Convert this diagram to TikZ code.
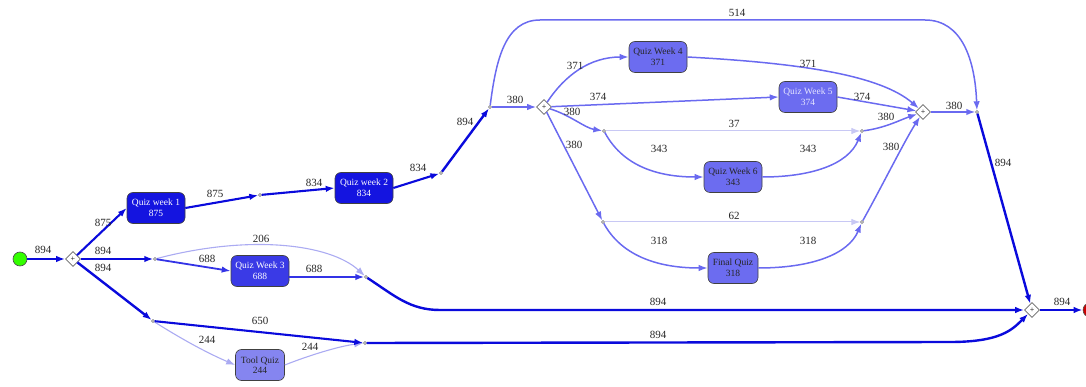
\documentclass[tikz,border=0pt]{standalone}
\usepackage{fontspec}
\setmainfont{Liberation Serif}
\usetikzlibrary{arrows.meta,shapes.geometric}
\definecolor{cdark}{HTML}{0A0ADC}
\definecolor{cmid}{HTML}{6A6AF0}
\definecolor{clight}{HTML}{ABABF2}
\definecolor{cvlight}{HTML}{C8C8F4}
\definecolor{cqa}{HTML}{3333E6}
\definecolor{fdark}{HTML}{1414E0}
\definecolor{fthree}{HTML}{3A3AE6}
\definecolor{fmid}{HTML}{6C6CF0}
\definecolor{flight}{HTML}{8585F0}
\tikzset{
  act/.style={draw=black!75, rounded corners=6pt, minimum width=58pt, minimum height=31pt,
    align=center, font=\fontsize{9.5}{10.5}\selectfont, inner sep=1pt, line width=0.6pt},
  gate/.style={diamond, draw=black!60, fill=white, minimum size=15pt, inner sep=0pt,
    font=\fontsize{8}{8}\selectfont, line width=0.6pt},
  dot/.style={circle, draw=black!60, fill=white, minimum size=3pt, inner sep=0pt, line width=0.4pt},
  lbl/.style={font=\fontsize{11}{12}\selectfont, inner sep=0pt, text=black!85},
  tip/.style={-{Latex[length=9pt,width=6.5pt]}},
  e894/.style={tip, draw=cdark, line width=2.4pt},
  e800/.style={tip, draw=cdark, line width=2.1pt},
  e688/.style={tip, draw=cqa, line width=1.8pt},
  emid/.style={tip, draw=cmid, line width=1.5pt},
  elight/.style={tip, draw=clight, line width=1.1pt},
  evlight/.style={tip, draw=cvlight, line width=1pt},
}
\begin{document}
\begin{tikzpicture}[x=1pt,y=-1pt]
\useasboundingbox (0,0) rectangle (1086,387);
\begin{scope}
\clip (0,0) rectangle (1086,387);
% nodes
\node[circle, draw=black!70, fill=green!80!yellow, minimum size=14pt, inner sep=0pt, line width=0.6pt] (start) at (20,259) {};
\node[circle, draw=black!70, fill=red!80!black, minimum size=14pt, inner sep=0pt, line width=0.6pt] (stop) at (1090,310) {};
\node[gate] (s1) at (73,259) {+};
\node[gate] (s2) at (544,107) {+};
\node[gate] (j2) at (923,112) {+};
\node[gate] (j1) at (1032,310) {+};

\node[act, fill=fdark, text=white] (qw1) at (156,208) {Quiz week 1\\875};
\node[act, fill=fdark, text=white] (qw2) at (364,188) {Quiz week 2\\834};
\node[act, fill=fthree, text=white] (qw3) at (260,271) {Quiz Week 3\\688};
\node[act, fill=fmid, text=black!85] (qw4) at (658,57) {Quiz Week 4\\371};
\node[act, fill=fmid, text=white!90!blue] (qw5) at (808,97) {Quiz Week 5\\374};
\node[act, fill=fmid, text=black!85] (qw6) at (733,177) {Quiz Week 6\\343};
\node[act, fill=fmid, text=black!85, minimum width=50pt] (fq) at (733,268) {Final Quiz\\318};
\node[act, fill=flight, text=black!85, minimum width=49pt] (tq) at (260,365) {Tool Quiz\\244};

\node[dot] (d1) at (260,195) {};
\node[dot] (d2) at (441,173) {};
\node[dot] (d3) at (490,107) {};
\node[dot] (da) at (604,131) {};
\node[dot] (db) at (862,131) {};
\node[dot] (dc) at (603,222) {};
\node[dot] (dd) at (862,222) {};
\node[dot] (de) at (977,112) {};
\node[dot] (df) at (155,259) {};
\node[dot] (dg) at (366,277) {};
\node[dot] (dh) at (153,321) {};
\node[dot] (di) at (365,343) {};

% light edges first
\draw[elight] (df) .. controls (250,234) and (330,244) .. (dg);
\draw[elight] (dh) .. controls (180,338) and (205,352) .. (tq.west);
\draw[elight] (tq.east) .. controls (310,355) and (340,346) .. (di);
\draw[evlight] (da) -- (db);
\draw[evlight] (dc) -- (dd);

% main edges
\draw[e894] (start) -- (s1);
\draw[e800] (s1) -- (qw1.west);
\draw[e894] (s1) -- (df);
\draw[e894] (s1) -- (dh);
\draw[e800] (qw1.east) -- (d1);
\draw[e800] (d1) -- (qw2.west);
\draw[e800] (qw2.east) -- (d2);
\draw[e894] (d2) -- (d3);
\draw[emid] (d3) -- (s2);
\coordinate (c514a) at (540,20);
\coordinate (c514b) at (925,20);
\draw[emid] (d3) .. controls (496,60) and (505,20) .. (c514a) -- (c514b) .. controls (962,20) and (975,60) .. (de);
\draw[emid] (s2) .. controls (565,75) and (590,57) .. (qw4.west);
\draw[emid] (s2) -- (qw5.west);
\draw[emid] (s2) .. controls (570,115) and (585,128) .. (da);
\draw[emid] (s2) -- (dc);
\draw[emid] (qw4.east) .. controls (800,63) and (880,75) .. (j2);
\draw[emid] (qw5.east) -- (j2);
\draw[emid] (da) .. controls (625,170) and (665,177) .. (qw6.west);
\draw[emid] (qw6.east) .. controls (810,177) and (848,165) .. (db);
\draw[emid] (db) .. controls (885,128) and (900,120) .. (j2);
\draw[emid] (dc) .. controls (625,262) and (670,268) .. (fq.west);
\draw[emid] (fq.east) .. controls (810,268) and (848,255) .. (dd);
\draw[emid] (dd) .. controls (880,190) and (905,140) .. (j2);
\draw[emid] (j2) -- (de);
\draw[e894] (de) -- (j1);
\draw[e688] (df) -- (qw3.west);
\draw[e688] ([yshift=-6pt]qw3.east) -- (dg);
\coordinate (cg) at (440,310);
\draw[e894] (dg) .. controls (395,296) and (410,310) .. (cg) -- (j1);
\draw[e800] (dh) -- (di);
\coordinate (ci) at (950,342);
\draw[e894] (di) -- (ci) .. controls (1000,342) and (1012,330) .. (j1);
\draw[e894] (j1) -- (stop);
\end{scope}

% labels
\node[lbl] (l01) at (43,250) {894};
\node[lbl] (l02) at (103,223) {875};
\node[lbl] (l03) at (103,251) {894};
\node[lbl] (l04) at (103,268) {894};
\node[lbl] (l05) at (215,194) {875};
\node[lbl] (l06) at (314,183) {834};
\node[lbl] (l07) at (418,168) {834};
\node[lbl] (l08) at (465,122) {894};
\node[lbl] (l09) at (515,100) {380};
\node[lbl] (l10) at (737,13) {514};
\node[lbl] (l11) at (575,66) {371};
\node[lbl] (l12) at (598,97) {374};
\node[lbl] (l13) at (572,112) {380};
\node[lbl] (l14) at (574,145) {380};
\node[lbl] (l15) at (808,64) {371};
\node[lbl] (l16) at (862,97) {374};
\node[lbl] (l17) at (734,124) {37};
\node[lbl] (l18) at (659,149) {343};
\node[lbl] (l19) at (808,149) {343};
\node[lbl] (l20) at (886,117) {380};
\node[lbl] (l21) at (734,216) {62};
\node[lbl] (l22) at (659,241) {318};
\node[lbl] (l23) at (808,241) {318};
\node[lbl] (l24) at (891,147) {380};
\node[lbl] (l25) at (954,106) {380};
\node[lbl] (l26) at (1003,163) {894};
\node[lbl] (l27) at (207,259) {688};
\node[lbl] (l28) at (261,239) {206};
\node[lbl] (l29) at (314,269) {688};
\node[lbl] (l30) at (658,302) {894};
\node[lbl] (l31) at (260,321) {650};
\node[lbl] (l32) at (207,340) {244};
\node[lbl] (l33) at (310,347) {244};
\node[lbl] (l34) at (658,335) {894};
\node[lbl] (l35) at (1062,302) {894};
\end{tikzpicture}
\end{document}
